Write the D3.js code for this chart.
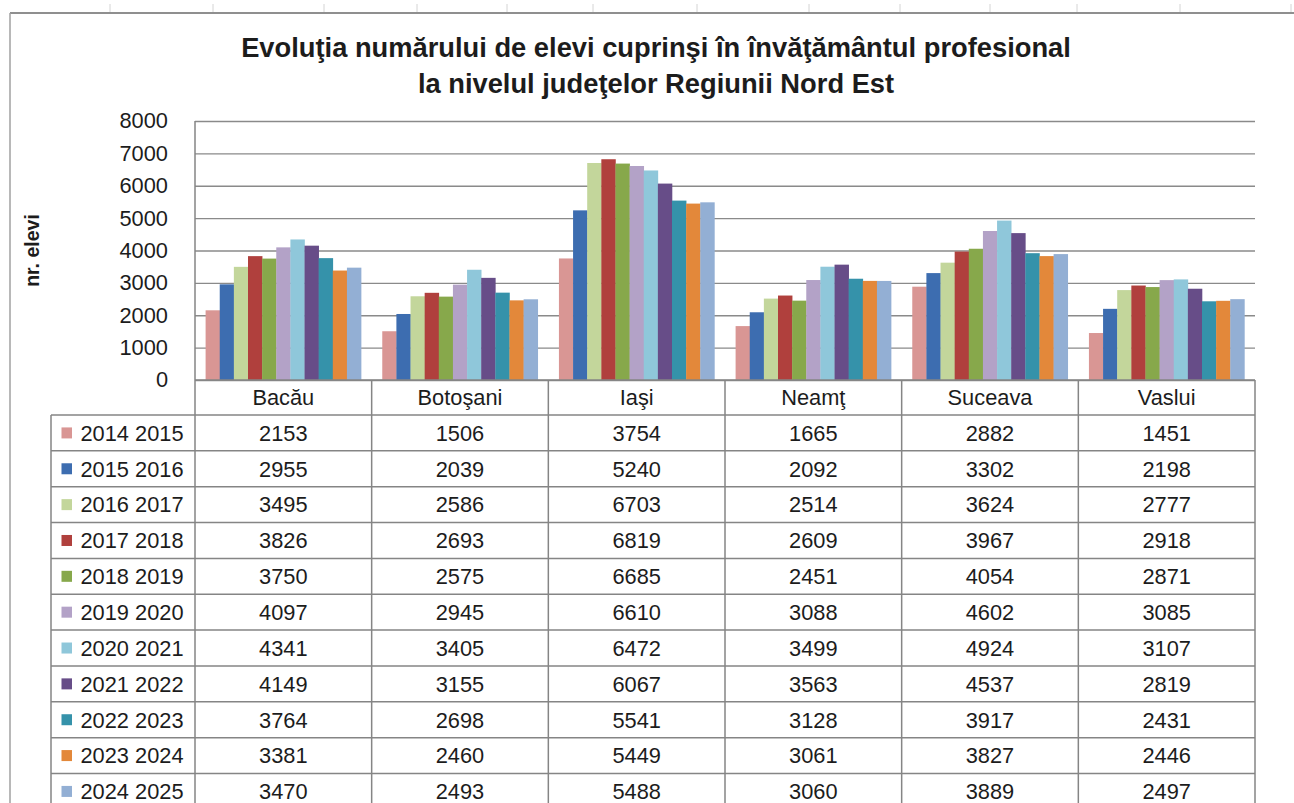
<!DOCTYPE html>
<html>
<head>
<meta charset="utf-8">
<script src="https://cdn.jsdelivr.net/npm/d3@7"></script>
<style>
  html, body { margin: 0; padding: 0; background: #fff; }
  svg { display: block; }
  text { font-family: "Liberation Sans", Arial, sans-serif; fill: #1c1c1c; }
</style>
</head>
<body>
<svg id="chart" width="1294" height="803"></svg>
<script>
// ---- data ----
const categories = ["Bacău", "Botoşani", "Iaşi", "Neamţ", "Suceava", "Vaslui"];
const seriesLabels = ["2014 2015", "2015 2016", "2016 2017", "2017 2018", "2018 2019", "2019 2020",
                      "2020 2021", "2021 2022", "2022 2023", "2023 2024", "2024 2025"];
const s2014_2015 = [2153, 1506, 3754, 1665, 2882, 1451];
const s2015_2016 = [2955, 2039, 5240, 2092, 3302, 2198];
const s2016_2017 = [3495, 2586, 6703, 2514, 3624, 2777];
const s2017_2018 = [3826, 2693, 6819, 2609, 3967, 2918];
const s2018_2019 = [3750, 2575, 6685, 2451, 4054, 2871];
const s2019_2020 = [4097, 2945, 6610, 3088, 4602, 3085];
const s2020_2021 = [4341, 3405, 6472, 3499, 4924, 3107];
const s2021_2022 = [4149, 3155, 6067, 3563, 4537, 2819];
const s2022_2023 = [3764, 2698, 5541, 3128, 3917, 2431];
const s2023_2024 = [3381, 2460, 5449, 3061, 3827, 2446];
const s2024_2025 = [3470, 2493, 5488, 3060, 3889, 2497];
const seriesColors = ["#d99694", "#3d6db0", "#c3d69b", "#b0403d", "#87a84b", "#b3a2c7",
                      "#8fc7da", "#674d88", "#3592aa", "#e3883a", "#93afd4"];
const yTicks = [0, 1000, 2000, 3000, 4000, 5000, 6000, 7000, 8000];
const titleLines = ["Evoluţia numărului de elevi cuprinşi în învăţământul profesional",
                    "la nivelul judeţelor Regiunii Nord Est"];
const yTitle = "nr. elevi";

const seriesValues = [s2014_2015, s2015_2016, s2016_2017, s2017_2018, s2018_2019, s2019_2020,
                      s2020_2021, s2021_2022, s2022_2023, s2023_2024, s2024_2025];
const series = seriesLabels.map((label, i) => ({ label, values: seriesValues[i], color: seriesColors[i] }));

// ---- layout ----
const W = 1294, H = 803;
const plotL = 195, plotR = 1255, plotT = 121, plotB = 380;
const legendL = 51, headerB = 415, rowH = 35.85;
const lineCol = "#858585";
const fs = 21.8;

const svg = d3.select("#chart");
svg.append("rect").attr("width", W).attr("height", H).attr("fill", "#fff");

// faint spreadsheet marks above the chart frame
const sheetMarks = [110, 213, 324, 417, 507, 593, 697, 809, 900, 990, 1077, 1180, 1291];
svg.append("g").selectAll("line").data(sheetMarks).join("line")
  .attr("x1", d => d).attr("x2", d => d).attr("y1", 4).attr("y2", 13)
  .attr("stroke", "#d4d4d4").attr("stroke-width", 1);

// chart frame (cropped)
svg.append("line").attr("x1", 10).attr("x2", W).attr("y1", 13).attr("y2", 13)
  .attr("stroke", "#8f8f8f").attr("stroke-width", 2);
svg.append("line").attr("x1", 10).attr("x2", 10).attr("y1", 13).attr("y2", H)
  .attr("stroke", "#a0a0a0").attr("stroke-width", 1.5);

// title
const titleG = svg.append("g");
titleLines.forEach((t, i) => {
  titleG.append("text").attr("x", 656).attr("y", 57 + i * 36)
    .attr("text-anchor", "middle").attr("font-weight", "bold").attr("font-size", 27.3)
    .text(t);
});

// scales
const x0 = d3.scaleBand().domain(categories).range([plotL, plotR]).paddingInner(0).paddingOuter(0);
const bw = x0.bandwidth();
const barW = bw / 12.5;
const x1 = d3.scaleBand().domain(seriesLabels).range([barW * 0.75, bw - barW * 0.75]).padding(0);
const y = d3.scaleLinear().domain([0, 8000]).range([plotB, plotT]);

// gridlines + y axis
const yAxis = d3.axisLeft(y).tickValues(yTicks).tickSize(-(plotR - plotL)).tickPadding(27).tickFormat(d3.format("d"));
const yg = svg.append("g").attr("transform", `translate(${plotL},0)`).call(yAxis);
yg.select(".domain").remove();
yg.selectAll(".tick line").attr("stroke", "#8a8a8a").attr("stroke-width", 1.3);
yg.selectAll(".tick text").attr("font-size", fs).attr("fill", "#1c1c1c")
  .attr("font-family", "\"Liberation Sans\", Arial, sans-serif");

// y title
svg.append("text").attr("transform", `translate(39,${(plotT + plotB) / 2}) rotate(-90)`)
  .attr("text-anchor", "middle").attr("font-weight", "bold").attr("font-size", 19.5).text(yTitle);

// bars
const groups = svg.append("g").selectAll("g").data(categories).join("g")
  .attr("transform", c => `translate(${x0(c)},0)`);
groups.selectAll("rect").data((c, ci) => series.map(s => ({ s, v: s.values[ci] }))).join("rect")
  .attr("x", d => x1(d.s.label)).attr("width", x1.bandwidth() + 0.3)
  .attr("y", d => y(d.v)).attr("height", d => y(0) - y(d.v))
  .attr("fill", d => d.s.color);

// ---- data table ----
const tbl = svg.append("g");
const nRows = series.length;
const rowTop = i => headerB + i * rowH;
// horizontal lines
tbl.append("line").attr("x1", plotL).attr("x2", plotR).attr("y1", plotB).attr("y2", plotB)
  .attr("stroke", lineCol).attr("stroke-width", 1.5);
for (let i = 0; i < nRows; i++) {
  tbl.append("line").attr("x1", legendL).attr("x2", plotR).attr("y1", rowTop(i)).attr("y2", rowTop(i))
    .attr("stroke", lineCol).attr("stroke-width", 1.5);
}
// vertical lines
tbl.append("line").attr("x1", legendL).attr("x2", legendL).attr("y1", headerB).attr("y2", H)
  .attr("stroke", lineCol).attr("stroke-width", 1.5);
tbl.append("line").attr("x1", plotL).attr("x2", plotL).attr("y1", plotT).attr("y2", H)
  .attr("stroke", lineCol).attr("stroke-width", 1.5);
categories.forEach(c => {
  const xr = x0(c) + bw;
  tbl.append("line").attr("x1", xr).attr("x2", xr).attr("y1", plotB).attr("y2", H)
    .attr("stroke", lineCol).attr("stroke-width", 1.5);
});
// header labels
tbl.selectAll("text.cat").data(categories).join("text").attr("class", "cat")
  .attr("x", c => x0(c) + bw / 2).attr("y", (plotB + headerB) / 2).attr("dy", "0.36em")
  .attr("text-anchor", "middle").attr("font-size", fs).text(c => c);
// rows
series.forEach((s, i) => {
  const cy = rowTop(i) + rowH / 2;
  tbl.append("rect").attr("x", 61.5).attr("y", cy - 5.5).attr("width", 10.5).attr("height", 11)
    .attr("fill", s.color);
  tbl.append("text").attr("x", 80.5).attr("y", cy).attr("dy", "0.36em")
    .attr("font-size", fs).text(s.label);
  categories.forEach((c, ci) => {
    tbl.append("text").attr("x", x0(c) + bw / 2).attr("y", cy).attr("dy", "0.36em")
      .attr("text-anchor", "middle").attr("font-size", fs).text(s.values[ci]);
  });
});
</script>
</body>
</html>
